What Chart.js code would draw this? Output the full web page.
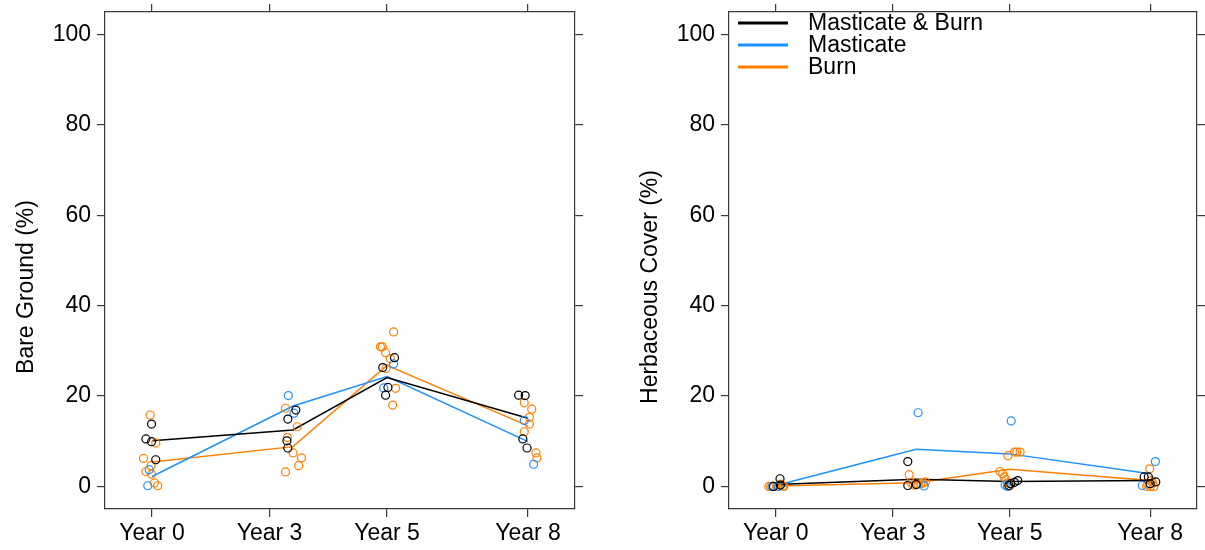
<!DOCTYPE html>
<html>
<head>
<meta charset="utf-8">
<script src="https://cdn.jsdelivr.net/npm/chart.js@4/dist/chart.umd.min.js"></script>
<style>
  body { margin: 0; background: #fff; }
  .panel { position: absolute; top: 0; height: 550px; }
</style>
</head>
<body>
<div class="panel" style="left:0;width:624px"><canvas id="bareChart" width="624" height="550"></canvas></div>
<div class="panel" style="left:624px;width:581px"><canvas id="herbChart" width="581" height="550"></canvas></div>
<script>
// ---- data ----
const years = [0, 3, 5, 8];
const xTickPos = [0, 2.5, 5, 8];
const xTickLabels = ["Year 0", "Year 3", "Year 5", "Year 8"];
const yTickVals = [0, 20, 40, 60, 80, 100];
const seriesNames = ["Masticate & Burn", "Masticate", "Burn"];
const seriesColors = ["#000000", "#1E90FF", "#FF7F00"];

// mean lines
const bareMeanMB = [10.1, 12.5, 24.1, 15.1];
const bareMeanM = [2.2, 17.8, 24.3, 9.9];
const bareMeanB = [5.4, 8.8, 26.8, 13.4];
const herbMeanMB = [0.4, 1.6, 1.1, 1.3];
const herbMeanM = [0.2, 8.2, 7.2, 2.8];
const herbMeanB = [0.1, 0.8, 3.8, 1.3];

// plot points [year (jittered), value]
const barePtsMB = [[-0.01,13.8],[-0.13,10.5],[-0.01,9.9],[0.08,5.9],[3.06,16.9],[2.89,14.9],[2.87,10.1],[2.89,8.5],
  [5.16,28.5],[4.91,26.3],[5.02,21.9],[4.97,20.2],[7.8,20.2],[7.94,20.1],[7.89,10.5],[7.98,8.5]];
const barePtsM = [[-0.06,3.7],[-0.09,0.15],[2.9,20.1],[3.02,16.2],[5.14,27.1],[4.93,21.8],[7.92,14.6],[8.12,4.9]];
const barePtsB = [[-0.04,15.8],[0.08,9.6],[-0.18,6.2],[-0.02,4.6],[-0.13,3.3],[-0.01,2.7],[0.05,0.75],[0.12,0.15],
  [2.84,17.3],[3.09,13.2],[2.88,10.8],[3.0,7.4],[3.18,6.3],[3.12,4.6],[2.84,3.2],
  [5.14,34.2],[4.86,30.9],[4.9,30.9],[4.97,29.6],[5.07,28.3],[4.98,26.1],[5.18,21.7],[5.12,18.0],
  [7.92,18.5],[8.08,17.1],[8.03,15.3],[8.03,13.8],[7.92,12.1],[8.17,7.4],[8.19,6.3]];
const herbPtsMB = [[0.09,1.7],[-0.05,0],[0.1,0.3],[2.82,5.5],[2.82,0.2],[3.0,0.4],[5.17,1.3],[5.1,0.9],[5.02,0.6],[4.98,0.2],
  [7.87,2.1],[7.96,2.1],[8.12,1.0],[8.0,0.6]];
const herbPtsM = [[-0.08,0],[0.05,0],[3.04,16.3],[3.17,0.1],[5.03,14.5],[4.9,0.3],[4.95,0],[8.11,5.5],[7.83,0.2]];
const herbPtsB = [[-0.11,0],[-0.06,0],[0.03,0],[0.17,0],[0.1,0.5],[-0.15,0],[0.15,0.1],
  [2.85,2.6],[2.88,0.9],[2.94,0.3],[3.04,0.5],[3.15,0.8],[3.2,1.0],[3.0,0.4],[3.1,0.6],
  [4.96,6.8],[5.1,7.6],[5.15,7.6],[5.22,7.6],[4.79,3.3],[4.85,2.8],[4.88,2.1],[4.92,1.5],[4.95,0.8],[5.0,0.1],
  [7.99,3.9],[8.02,1.3],[7.92,0],[8.0,0],[8.08,0],[8.05,0.8],[7.95,0.5]];

const FONT = "'Liberation Sans', Arial, sans-serif";
const FRAME = "#3a3a3a";

// y title (centred on the whole figure like lattice) + legend in the plot box
const panelText = {
    id: "panelText",
    afterDatasetsDraw(chart, args, opts) {
        const { ctx, chartArea } = chart;
        ctx.save();
        ctx.font = `23px ${FONT}`;
        ctx.fillStyle = "#000";
        // axis title
        ctx.save();
        ctx.translate(27, 287);
        ctx.rotate(-Math.PI / 2);
        ctx.textAlign = "center";
        ctx.textBaseline = "middle";
        ctx.fillText(opts.title, 0, 0);
        ctx.restore();

        if (opts.legend) {
            ctx.textBaseline = "middle";
            seriesNames.forEach((name, i) => {
                const y = chartArea.top + 11 + i * 22;
                ctx.strokeStyle = seriesColors[i];
                ctx.lineWidth = 3;
                ctx.beginPath();
                ctx.moveTo(chartArea.left + 9, y);
                ctx.lineTo(chartArea.left + 59, y);
                ctx.stroke();
                ctx.fillText(name, chartArea.left + 79, y + 1);
            });
        }
        ctx.restore();
    }
};

function makeChart(canvasId, title, pts, means, padRight, showLegend) {
    const pointSets = pts.map((p, i) => ({
        type: "scatter",
        data: p.map(([x, y]) => ({ x, y })),
        borderColor: seriesColors[i],
        backgroundColor: "rgba(0,0,0,0)",
        pointRadius: 4,
        pointBorderWidth: 1.2,
        showLine: false
    }));
    const lineSets = means.map((m, i) => ({
        type: "line",
        data: years.map((yr, k) => ({ x: yr, y: m[k] })),
        borderColor: seriesColors[i],
        borderWidth: 1.5,
        pointRadius: 0,
        fill: false,
        tension: 0
    }));

    const frameGrid = { drawOnChartArea: false, drawTicks: true, tickLength: 8, color: FRAME, lineWidth: 1.2 };
    const border = { display: true, color: FRAME, width: 1.2 };
    const setXTicks = s => { s.ticks = xTickPos.map(v => ({ value: v })); };
    const setYTicks = s => { s.ticks = yTickVals.map(v => ({ value: v })); };
    const noPad = s => { s.paddingTop = 0; s.paddingBottom = 0; s.paddingLeft = 0; s.paddingRight = 0; };

    return new Chart(document.getElementById(canvasId), {
        type: "scatter",
        data: { datasets: [...pointSets, ...lineSets] },
        plugins: [panelText],
        options: {
            responsive: false,
            animation: false,
            devicePixelRatio: 1,
            layout: { padding: { left: 0, right: padRight, top: 4, bottom: 0 } },
            plugins: {
                legend: { display: false },
                tooltip: { enabled: false },
                panelText: { title, legend: showLegend }
            },
            scales: {
                x: {
                    type: "linear", position: "bottom", min: -1, max: 9,
                    afterBuildTicks: setXTicks,
                    afterFit: s => { noPad(s); s.height = 41; },
                    grid: frameGrid, border,
                    ticks: {
                        color: "#000", padding: 3, maxRotation: 0, autoSkip: false,
                        font: { family: FONT, size: 23 },
                        callback: v => xTickLabels[xTickPos.indexOf(v)]
                    }
                },
                x2: {
                    type: "linear", position: "top", min: -1, max: 9,
                    afterBuildTicks: setXTicks,
                    afterFit: s => { noPad(s); s.height = 8; },
                    grid: frameGrid, border,
                    ticks: { display: false }
                },
                y: {
                    type: "linear", position: "left", min: -5, max: 105,
                    afterBuildTicks: setYTicks,
                    afterFit: s => { noPad(s); s.width = 105; },
                    grid: frameGrid, border,
                    ticks: { color: "#000", padding: 6, font: { family: FONT, size: 23 } }
                },
                y2: {
                    type: "linear", position: "right", min: -5, max: 105,
                    afterBuildTicks: setYTicks,
                    afterFit: s => { noPad(s); s.width = 8; },
                    grid: frameGrid, border,
                    ticks: { display: false }
                }
            }
        }
    });
}

makeChart("bareChart", "Bare Ground (%)", [barePtsMB, barePtsM, barePtsB], [bareMeanMB, bareMeanM, bareMeanB], 41, false);
makeChart("herbChart", "Herbaceous Cover (%)", [herbPtsMB, herbPtsM, herbPtsB], [herbMeanMB, herbMeanM, herbMeanB], 0, true);
</script>
</body>
</html>
